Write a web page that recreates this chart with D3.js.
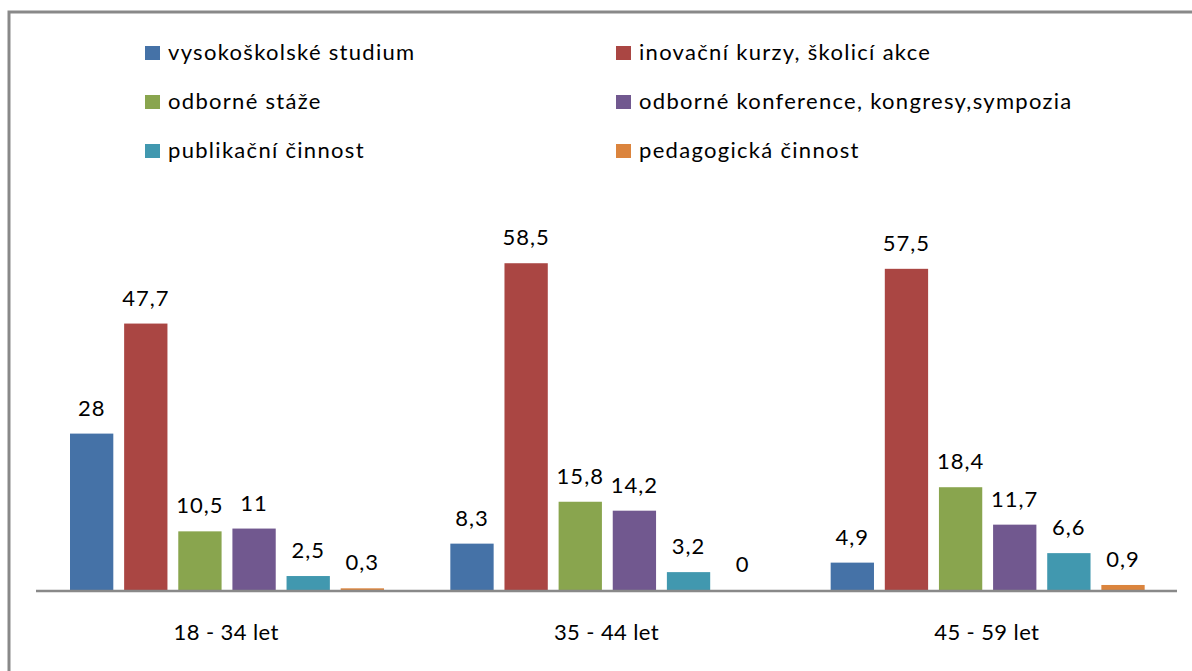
<!DOCTYPE html>
<html>
<head>
<meta charset="utf-8">
<script src="https://cdn.jsdelivr.net/npm/d3@7"></script>
<style>
  body { margin: 0; background: #fff; }
  svg { display: block; font-family: Lato, "Open Sans", sans-serif; }
</style>
</head>
<body>
<script>
// data
var groups = ["18 - 34 let", "35 - 44 let", "45 - 59 let"]
var series = ["vysokoškolské studium", "inovační kurzy, školicí akce", "odborné stáže",
              "odborné konference, kongresy,sympozia", "publikační činnost", "pedagogická činnost"]
var colors = ["#4572A7", "#AA4643", "#89A54E", "#71588F", "#4198AF", "#DB843D"]
var values = [
  [28, 47.7, 10.5, 11, 2.5, 0.3],
  [8.3, 58.5, 15.8, 14.2, 3.2, 0],
  [4.9, 57.5, 18.4, 11.7, 6.6, 0.9]
]

var W = 1192, H = 671
var svg = d3.select("body").append("svg").attr("width", W).attr("height", H)

// chart frame
svg.append("rect").attr("x", 9).attr("y", 12).attr("width", W + 10).attr("height", H + 10)
  .attr("fill", "none").attr("stroke", "#898989").attr("stroke-width", 3)

var x0 = d3.scaleBand().domain(groups).range([36, 1177])
var x1 = d3.scaleBand().domain(d3.range(series.length)).range([34, 348]).paddingInner(0.2)
var y = d3.scaleLinear().domain([0, 70]).range([590, 199])

var fmt = function(v) { return String(v).replace(".", ",") }

var g = svg.selectAll("g.grp").data(values).enter().append("g").classed("grp", true)
  .attr("transform", function(d, i) { return "translate(" + x0(groups[i]) + ",0)" })

g.selectAll("rect").data(function(d) { return d }).enter().append("rect")
  .attr("x", function(d, i) { return x1(i) })
  .attr("width", x1.bandwidth())
  .attr("y", function(d) { return y(d) })
  .attr("height", function(d) { return y(0) - y(d) })
  .attr("fill", function(d, i) { return colors[i] })

g.selectAll("text").data(function(d) { return d }).enter().append("text")
  .attr("x", function(d, i) { return x1(i) + x1.bandwidth() / 2 })
  .attr("y", function(d) { return y(d) - 18 })
  .attr("text-anchor", "middle")
  .attr("font-size", 22)
  .attr("letter-spacing", 1)
  .attr("fill", "#000")
  .text(fmt)

// axis line
svg.append("line").attr("x1", 36).attr("x2", 1177).attr("y1", 591).attr("y2", 591)
  .attr("stroke", "#898989").attr("stroke-width", 2.5)

svg.selectAll("text.cat").data(groups).enter().append("text").classed("cat", true)
  .attr("x", function(d) { return x0(d) + x0.bandwidth() / 2 })
  .attr("y", 640)
  .attr("text-anchor", "middle")
  .attr("font-size", 22)
  .attr("letter-spacing", 0.4)
  .text(function(d) { return d })

// legend, two columns
var leg = svg.selectAll("g.leg").data(series).enter().append("g").classed("leg", true)
  .attr("transform", function(d, i) {
    return "translate(" + (i % 2 == 0 ? 145 : 616) + "," + (46 + Math.floor(i / 2) * 49) + ")"
  })
leg.append("rect").attr("width", 15).attr("height", 14)
  .attr("fill", function(d, i) { return colors[i] })
leg.append("text").attr("x", 23).attr("y", 14).attr("font-size", 22)
  .attr("letter-spacing", 1.3)
  .text(function(d) { return d })
</script>
</body>
</html>
